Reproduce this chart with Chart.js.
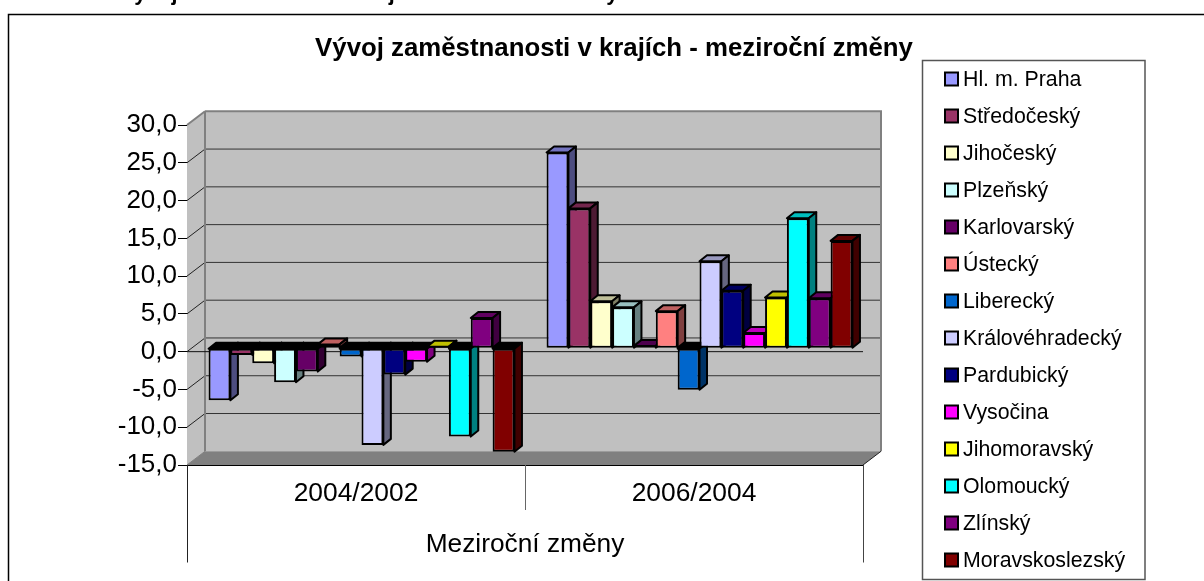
<!DOCTYPE html>
<html lang="cs">
<head>
<meta charset="utf-8">
<title>Vývoj zaměstnanosti v krajích</title>
<style>html,body{margin:0;padding:0;background:#fff}canvas{display:block}</style>
<script src="https://cdn.jsdelivr.net/npm/chart.js@4/dist/chart.umd.min.js"></script>
</head>
<body>
<canvas id="c" width="1204" height="581"></canvas>
<script>
const categories = ['2004/2002', '2006/2004'];
const regions = ['Hl. m. Praha','Středočeský','Jihočeský','Plzeňský','Karlovarský','Ústecký','Liberecký','Královéhradecký','Pardubický','Vysočina','Jihomoravský','Olomoucký','Zlínský','Moravskoslezský'];
const change2004 = [-6.9,-0.9,-2.0,-4.5,-3.1,0.5,-1.1,-12.8,-3.5,-1.8,0.2,-11.7,4.0,-13.7];
const change2006 = [25.9,18.5,6.2,5.4,0.3,4.9,-5.5,11.5,7.6,2.0,6.7,17.2,6.6,14.2];
const colors = ['#9999FF','#993366','#FFFFCC','#CCFFFF','#660066','#FF8080','#0066CC','#CCCCFF','#000080','#FF00FF','#FFFF00','#00FFFF','#800080','#800000'];
const titleText = 'Vývoj zaměstnanosti v krajích - meziroční změny';
const axisTitle = 'Meziroční změny';

const FONT = '"Liberation Sans", Arial, sans-serif';
const WALL = {dx: 18, dy: 13.7};
const BAR = {dx: 5.5, dy: 3.5, ddx: 7.5, ddy: 6};

function shade(hex, f) {
  const n = parseInt(hex.slice(1), 16);
  return 'rgb(' + [(n >> 16) & 255, (n >> 8) & 255, n & 255].map(v => Math.round(v * f)).join(',') + ')';
}
function poly(ctx, pts, fill, stroke, lw) {
  ctx.beginPath();
  pts.forEach((p, i) => i ? ctx.lineTo(p[0], p[1]) : ctx.moveTo(p[0], p[1]));
  ctx.closePath();
  if (fill) { ctx.fillStyle = fill; ctx.fill(); }
  if (stroke) { ctx.strokeStyle = stroke; ctx.lineWidth = lw; ctx.stroke(); }
}
function line(ctx, x1, y1, x2, y2, color, lw) {
  ctx.beginPath(); ctx.moveTo(x1, y1); ctx.lineTo(x2, y2);
  ctx.strokeStyle = color; ctx.lineWidth = lw; ctx.stroke();
}

const depth3d = {
  id: 'depth3d',
  afterLayout(chart) {
    const t = chart.titleBlock;
    t.left = 314; t.right = 914;
  },
  beforeDraw(chart) {
    const ctx = chart.ctx;
    ctx.save();
    ctx.fillStyle = '#fff';
    ctx.fillRect(0, 0, chart.width, chart.height);
    // cut-off heading above the frame
    ctx.fillStyle = '#000';
    ctx.font = 'bold 21.5px ' + FONT;
    ctx.textAlign = 'left';
    ctx.textBaseline = 'alphabetic';
    ctx.fillText(titleText, 120, 0);
    // outer frame runs off the page
    ctx.strokeStyle = '#000';
    ctx.lineWidth = 1.5;
    ctx.strokeRect(8.5, 14.5, chart.width + 20, chart.height + 20);
    ctx.restore();
  },
  beforeDatasetsDraw(chart) {
    const ctx = chart.ctx, a = chart.chartArea, y = chart.scales.y;
    const {dx, dy} = WALL;
    ctx.save();
    poly(ctx, [[a.left + dx, a.top - dy], [a.right + dx, a.top - dy], [a.right + dx, a.bottom - dy], [a.left + dx, a.bottom - dy]], '#C0C0C0');
    poly(ctx, [[a.left, a.top], [a.left + dx, a.top - dy], [a.left + dx, a.bottom - dy], [a.left, a.bottom]], '#C0C0C0');
    poly(ctx, [[a.left, a.bottom], [a.right, a.bottom], [a.right + dx, a.bottom - dy], [a.left + dx, a.bottom - dy]], '#808080');
    y.ticks.forEach(t => {
      const py = y.getPixelForValue(t.value);
      if (t.value > y.min && t.value < y.max) {
        line(ctx, a.left + dx, py - dy, a.right + dx, py - dy, '#333', 1);
      }
      if (t.value > y.min) line(ctx, a.left, py, a.left + dx, py - dy, t.value === y.max ? '#808080' : '#222', t.value === y.max ? 2 : 1);
    });
    line(ctx, a.left + dx, a.top - dy, a.right + dx + 1, a.top - dy, '#808080', 2);
    line(ctx, a.left + dx, a.top - dy, a.left + dx, a.bottom - dy, '#808080', 2);
    line(ctx, a.right + dx, a.top - dy, a.right + dx, a.bottom - dy, '#808080', 2);
    line(ctx, a.right, a.bottom, a.right + dx, a.bottom - dy, '#222', 1);
    line(ctx, a.left, a.bottom, a.left + dx, a.bottom - dy, '#808080', 1);
    const z = y.getPixelForValue(0);
    line(ctx, a.left, z, a.right, z, '#111', 1);
    // depth faces of the bars, left to right, so each one hides the side of the one before
    ctx.translate(BAR.dx, -BAR.dy);
    ctx.lineJoin = 'round';
    const {ddx, ddy} = BAR;
    chart.data.datasets.forEach((ds, i) => {
      const col = colors[i];
      chart.getDatasetMeta(i).data.forEach(el => {
        const p = el.getProps(['x', 'y', 'base', 'width'], true);
        const l = p.x - p.width / 2, r = p.x + p.width / 2;
        const up = p.y < p.base;
        const t = Math.min(p.y, p.base), b = Math.max(p.y, p.base);
        poly(ctx, [[l, t], [r, t], [r + ddx, t - ddy], [l + ddx, t - ddy]], up ? shade(col, 0.75) : '#000', '#000', 2);
        poly(ctx, [[r, t], [r + ddx, t - ddy], [r + ddx, b - ddy], [r, b]], shade(col, 0.5), '#000', 2);
      });
    });
    ctx.restore();
  },
  beforeDatasetDraw(chart) {
    chart.ctx.save();
    chart.ctx.translate(BAR.dx, -BAR.dy);
  },
  afterDatasetDraw(chart) {
    chart.ctx.restore();
  },
  afterDraw(chart) {
    const ctx = chart.ctx, a = chart.chartArea, x = chart.scales.x;
    ctx.save();
    // category separators below the floor
    const mid = (x.getPixelForValue(0) + x.getPixelForValue(1)) / 2;
    line(ctx, a.left + 0.5, a.bottom, a.left + 0.5, 562.5, '#222', 1);
    line(ctx, mid + 0.5, a.bottom, mid + 0.5, 510, '#666', 1);
    line(ctx, a.right + 0.5, a.bottom, a.right + 0.5, 562.5, '#444', 1);
    // legend
    ctx.fillStyle = '#fff';
    ctx.fillRect(922.5, 60.5, 222.5, 519);
    ctx.strokeStyle = '#555';
    ctx.lineWidth = 1.5;
    ctx.strokeRect(922.5, 60.5, 222.5, 519);
    ctx.font = '21.3px ' + FONT;
    ctx.textAlign = 'left';
    ctx.textBaseline = 'middle';
    chart.data.datasets.forEach((ds, i) => {
      const cy = 79 + 37 * i;
      ctx.fillStyle = ds.backgroundColor;
      ctx.strokeStyle = '#000';
      ctx.lineWidth = 2;
      ctx.fillRect(945, cy - 6.5, 13, 13);
      ctx.strokeRect(945, cy - 6.5, 13, 13);
      ctx.fillStyle = '#000';
      ctx.fillText(ds.label, 963, cy + 1);
    });
    ctx.restore();
  }
};

new Chart(document.getElementById('c'), {
  type: 'bar',
  data: {
    labels: categories,
    datasets: regions.map((r, i) => ({
      label: r,
      data: [change2004[i], change2006[i]],
      backgroundColor: colors[i],
      borderColor: '#000',
      borderWidth: 2,
      borderSkipped: false,
      categoryPercentage: 0.905,
      barPercentage: 1,
      clip: false
    }))
  },
  plugins: [depth3d],
  options: {
    responsive: false,
    animation: false,
    layout: {padding: {left: 30, right: 341, top: 33, bottom: 0}},
    plugins: {
      legend: {display: false},
      tooltip: {enabled: false},
      title: {
        display: true,
        text: titleText,
        color: '#000',
        font: {family: FONT, size: 25.8, weight: 'bold', lineHeight: 1.2},
        padding: {top: 0, bottom: 61.04}
      }
    },
    scales: {
      x: {
        offset: true,
        grid: {display: false, drawTicks: false},
        border: {display: true, color: '#000', width: 1},
        ticks: {color: '#000', font: {family: FONT, size: 26.4}, padding: 13, maxRotation: 0, minRotation: 0},
        title: {display: true, text: axisTitle, color: '#000', font: {family: FONT, size: 26.3}, padding: {top: 0, bottom: 20}},
        afterFit(s) { s.height = 116; }
      },
      y: {
        min: -15,
        max: 30,
        grid: {display: true, drawOnChartArea: false, drawTicks: true, tickLength: 9, color: '#000'},
        border: {display: true, color: '#000', width: 1},
        ticks: {
          stepSize: 5,
          color: '#000',
          padding: 1,
          font: {family: FONT, size: 26},
          callback: v => v.toFixed(1).replace('.', ',')
        },
        afterFit(s) { s.width = 157; }
      }
    }
  }
});
</script>
</body>
</html>
